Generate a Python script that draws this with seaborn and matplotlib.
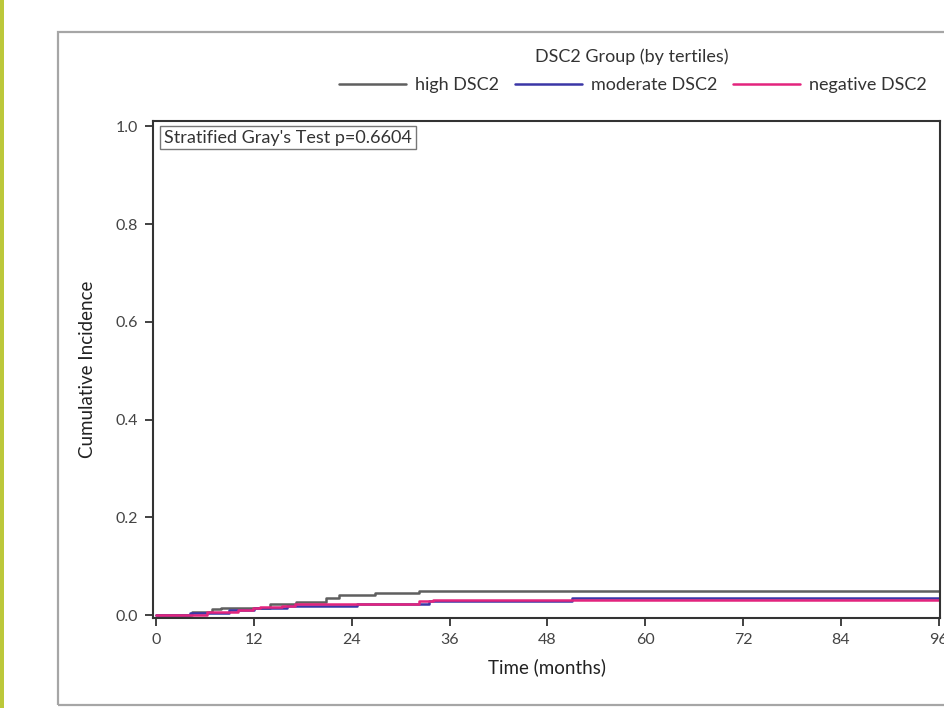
import numpy as np
import pandas as pd
import matplotlib
matplotlib.use('Agg')
import matplotlib.pyplot as plt
import seaborn as sns
from matplotlib.patches import Rectangle

# ─── Data ─────────────────────────────────────────────────────────────────────
kelompok = ['high DSC2', 'moderate DSC2', 'negative DSC2']

high_t = [0, 4.4, 6.8, 8.0, 14.0, 17.2, 20.9, 22.4, 26.8, 32.2, 96]
high_ci = [0, 0.006, 0.012, 0.015, 0.023, 0.027, 0.035, 0.041, 0.046, 0.050, 0.050]

moderate_t = [0, 4.2, 9.0, 12.0, 16.0, 24.6, 33.5, 51.0, 96]
moderate_ci = [0, 0.005, 0.010, 0.014, 0.018, 0.023, 0.028, 0.035, 0.035]

negative_t = [0, 6.3, 10.0, 11.9, 12.8, 15.5, 17.0, 32.2, 34.0, 96]
negative_ci = [0.001, 0.006, 0.010, 0.014, 0.016, 0.018, 0.023, 0.028, 0.032, 0.032]

x_ticks = [0, 12, 24, 36, 48, 60, 72, 84, 96]
y_ticks = [0.0, 0.2, 0.4, 0.6, 0.8, 1.0]

warna = {'high DSC2': '#5f5f5f', 'moderate DSC2': '#3b36a6', 'negative DSC2': '#e3247d'}

df = pd.concat([
    pd.DataFrame({'t': high_t, 'ci': high_ci, 'grup': kelompok[0]}),
    pd.DataFrame({'t': moderate_t, 'ci': moderate_ci, 'grup': kelompok[1]}),
    pd.DataFrame({'t': negative_t, 'ci': negative_ci, 'grup': kelompok[2]}),
], ignore_index=True)

# ─── Plot ─────────────────────────────────────────────────────────────────────
sns.set_style('white')
plt.rcParams['font.family'] = ['Lato', 'DejaVu Sans']

fig = plt.figure(figsize=(9.45, 7.08), dpi=100)
ax = fig.add_axes([0.162, 0.127, 0.833, 0.702])

# bingkai abu-abu + strip hijau di kiri
fig.patches.append(Rectangle((0.0614, 0.004), 0.95, 0.951, transform=fig.transFigure,
                             fill=False, edgecolor='#a6a6a6', linewidth=1.6))
fig.patches.append(Rectangle((0, 0), 0.0045, 1, transform=fig.transFigure,
                             facecolor='#bcc83a', edgecolor='none'))

sns.lineplot(data=df, x='t', y='ci', hue='grup', hue_order=kelompok, palette=warna,
             drawstyle='steps-post', estimator=None, sort=False, linewidth=1.8,
             legend=False, ax=ax)

ax.set_xlim(-0.37, 96.2)
ax.set_ylim(-0.006, 1.011)
ax.set_xticks(x_ticks)
ax.set_yticks(y_ticks)
ax.set_yticklabels([f'{v:.1f}' for v in y_ticks])
ax.tick_params(direction='out', length=6, width=1.3, color='#333333',
               labelsize=11.5, labelcolor='#444444', bottom=True, left=True, pad=5)
for sp in ax.spines.values():
    sp.set_color('#333333')
    sp.set_linewidth(1.5)

ax.set_xlabel('Time (months)', fontsize=13.5, color='#222222', labelpad=8)
ax.set_ylabel('Cumulative Incidence', fontsize=13.5, color='#222222', labelpad=14)

ax.text(0.014, 0.983, "Stratified Gray's Test p=0.6604", transform=ax.transAxes,
        ha='left', va='top', fontsize=13, color='#333333',
        bbox=dict(boxstyle='square,pad=0.2', facecolor='white', edgecolor='#777777', linewidth=1))

# legenda di atas
fig.text(632 / 945, 1 - 57 / 708, 'DSC2 Group (by tertiles)', ha='center', va='center',
         fontsize=13, color='#333333')
handles = [plt.Line2D([], [], color=warna[k], linewidth=1.8) for k in kelompok]
leg = fig.legend(handles, kelompok, ncol=3, loc='center',
                 bbox_to_anchor=(633 / 945, 1 - 85 / 708), frameon=False,
                 fontsize=13, handlelength=3.7, handletextpad=0.5,
                 columnspacing=0.9, borderpad=0)
for t in leg.get_texts():
    t.set_color('#333333')

fig.savefig('out.png', dpi=100)
